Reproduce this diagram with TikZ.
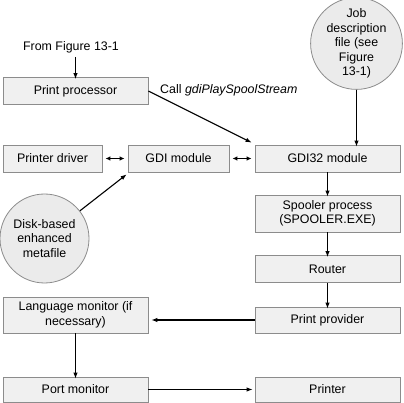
\documentclass[tikz,border=0pt]{standalone}
\usepackage{fontspec}
\setmainfont{Liberation Sans}
\usetikzlibrary{arrows.meta}
\definecolor{boxfill}{HTML}{F0F0F0}
\definecolor{boxdraw}{HTML}{8C8C8C}
\definecolor{circfill}{HTML}{EBEBEB}
\begin{document}
\begin{tikzpicture}[x=1pt,y=-1pt,
  every node/.style={font=\fontsize{12.4}{14.5}\selectfont, inner sep=0pt, align=center},
  blk/.style={draw=boxdraw, fill=boxfill, line width=0.8pt},
  circ/.style={circle, draw=boxdraw, fill=circfill, line width=0.8pt},
  arr/.style={line width=1.1pt, -{Latex[length=6pt,width=4.5pt]}},
  darr/.style={line width=1.1pt, {Latex[length=5pt,width=4.5pt]}-{Latex[length=5pt,width=4.5pt]}, shorten <=3pt, shorten >=3pt}
]
\useasboundingbox (0,0) rectangle (404,403);
\fill[white] (0,0) rectangle (404,403);

\node[blk, minimum width=145pt, minimum height=27pt] (pp) at (75.5,91) {Print processor};
\node[blk, minimum width=99pt, minimum height=27pt] (drv) at (52.5,158.5) {Printer driver};
\node[blk, minimum width=101pt, minimum height=27pt] (gdi) at (178.5,158.5) {GDI module};
\node[blk, minimum width=145pt, minimum height=27pt] (g32) at (327.5,158.5) {GDI32 module};
\node[blk, minimum width=145pt, minimum height=37pt] (spl) at (327.5,213.5) {Spooler process\\(SPOOLER.EXE)};
\node[blk, minimum width=145pt, minimum height=27pt] (rt) at (327.5,269) {Router};
\node[blk, minimum width=145pt, minimum height=26pt] (prov) at (327.5,320) {Print provider};
\node[blk, minimum width=145pt, minimum height=36pt] (lm) at (75.5,315) {Language monitor (if\\necessary)};
\node[blk, minimum width=145pt, minimum height=25pt] (pm) at (75.5,389.5) {Port monitor};
\node[blk, minimum width=145pt, minimum height=25pt] (prt) at (327.5,389.5) {Printer};

\node[circ, minimum size=84pt] (job) at (356.5,43.5) {Job\\description\\file (see\\Figure\\13-1)};
\node[circ, minimum size=89pt] (disk) at (44.5,238.5) {Disk-based\\enhanced\\metafile};

\node (from) at (71,47) {From Figure 13-1};
\node[anchor=west] (call) at (160,90) {Call \textit{gdiPlaySpoolStream}};

\coordinate (callend) at ([shift={(-3,-2)}]g32.north west);

\draw[arr] (pp.north |- from.south) ++(0,4) -- ([yshift=-2pt]pp.north);
\draw[arr] (pp.east) -- (callend);
\draw[arr] (job.south) -- ([yshift=-2pt]job.south |- g32.north);
\draw[darr] (drv.east) -- (gdi.west);
\draw[darr] (gdi.west -| gdi.east) -- (g32.west);
\draw[arr] (disk.38) -- ([shift={(-1,2)}]gdi.south west);
\draw[arr] (g32.south) -- ([yshift=-2pt]spl.north);
\draw[arr] (spl.south) -- ([yshift=-2pt]rt.north);
\draw[arr] (rt.south) -- ([yshift=-2pt]prov.north);
\draw[arr] (prov.west) -- ([xshift=3pt]prov.west -| lm.east);
\draw[arr] (lm.south) -- ([yshift=-2pt]pm.north);
\draw[arr] (pm.east) -- ([xshift=-2pt]prt.west);
\end{tikzpicture}
\end{document}
